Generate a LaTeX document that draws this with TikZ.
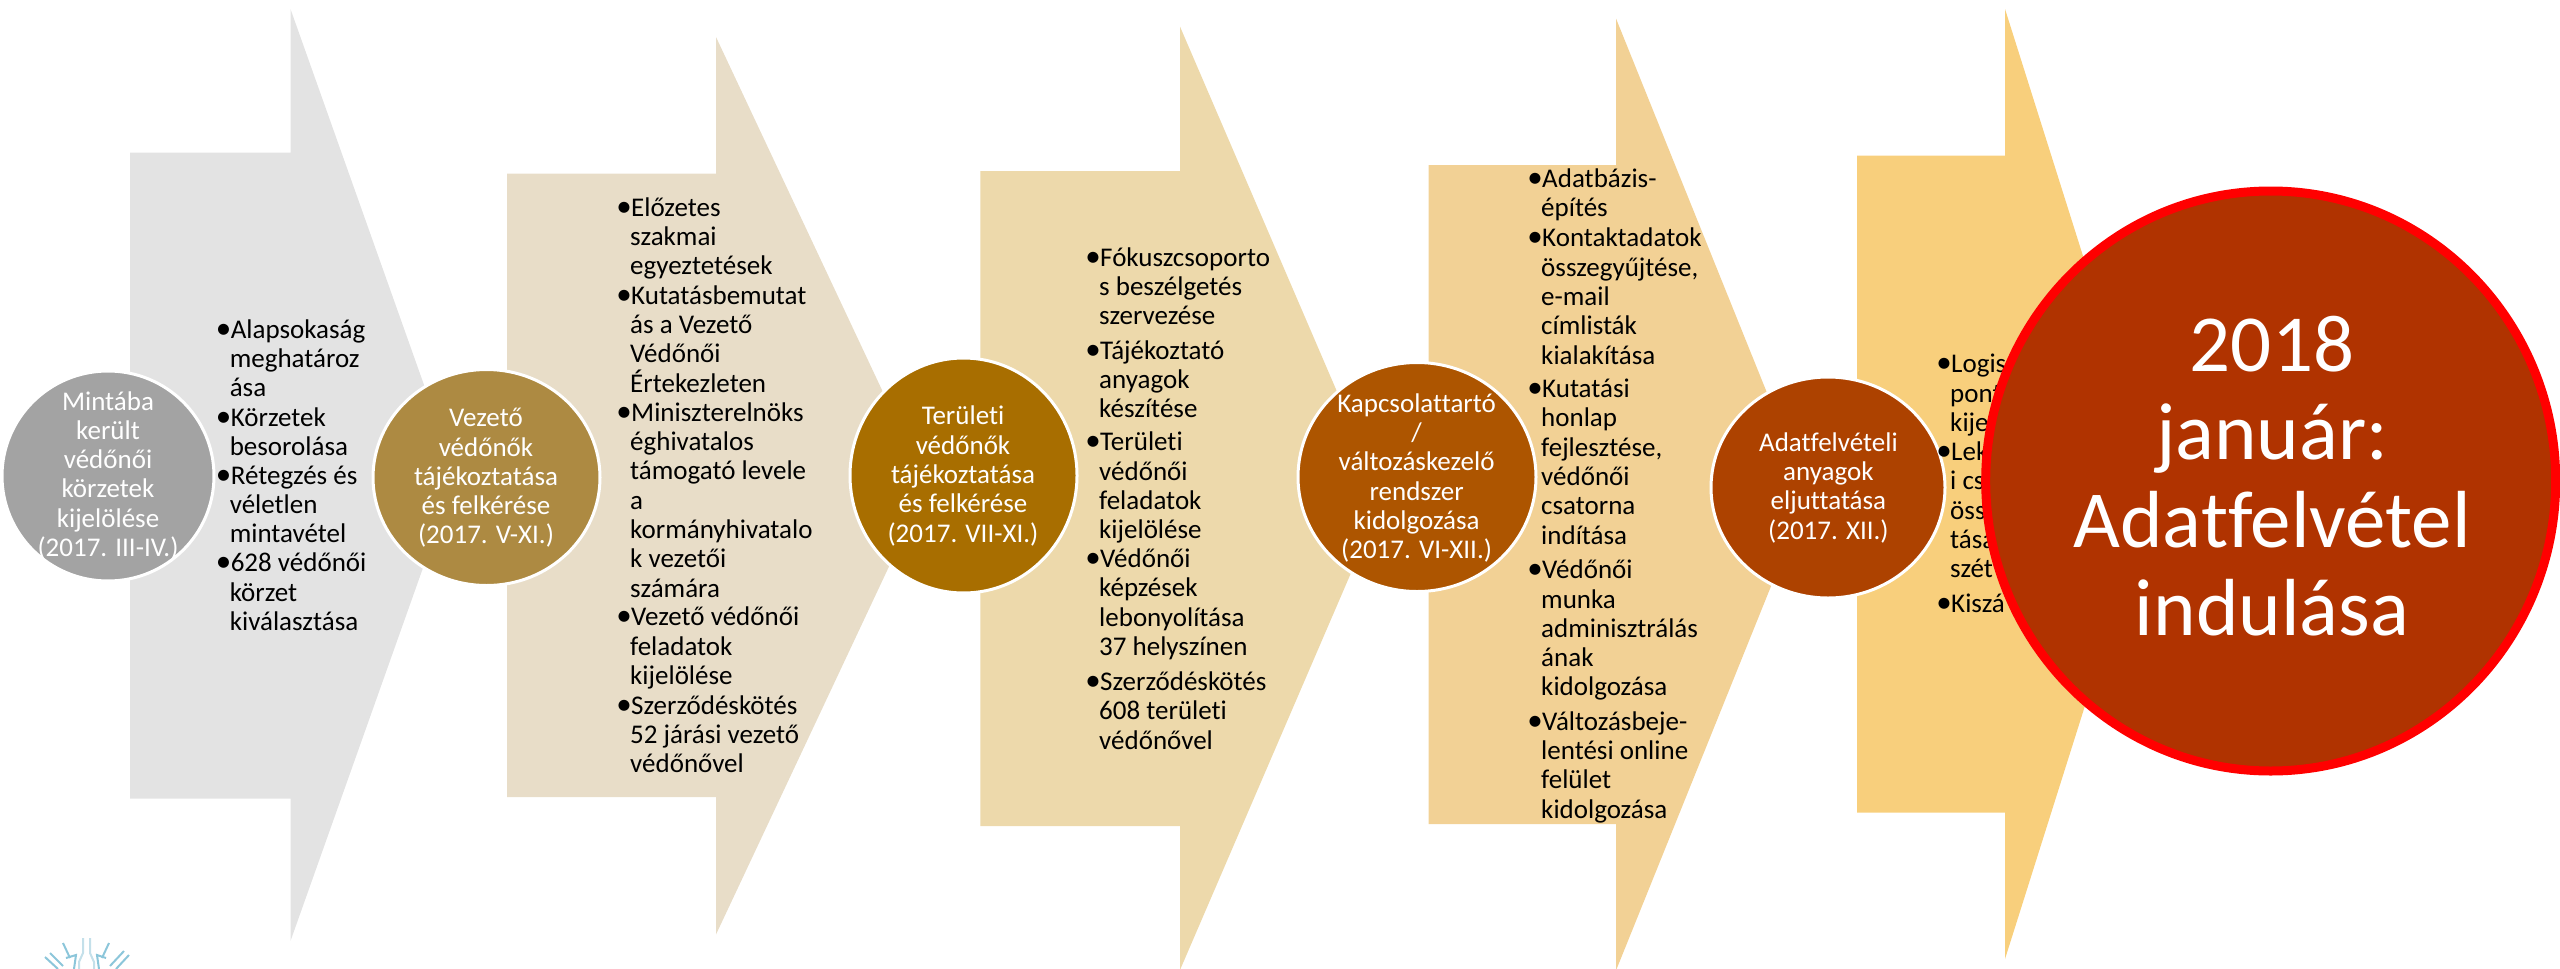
\documentclass[tikz,border=0pt]{standalone}
\usepackage{fontspec}
\setmainfont[Ligatures={NoCommon,TeX}]{Carlito}
\usetikzlibrary{shapes.geometric}
\definecolor{arA}{HTML}{E3E3E3}
\definecolor{arB}{HTML}{E8DDC8}
\definecolor{arC}{HTML}{EDD9AB}
\definecolor{arD}{HTML}{F2D195}
\definecolor{arE}{HTML}{F8CF7C}
\definecolor{dcA}{HTML}{A3A3A3}
\definecolor{dcB}{HTML}{AD8A42}
\definecolor{dcC}{HTML}{A86E00}
\definecolor{dcD}{HTML}{AD5500}
\definecolor{dcE}{HTML}{AD4200}
\definecolor{dcF}{HTML}{B03300}
\definecolor{logoblue}{HTML}{8CC6DA}
\definecolor{logopale}{HTML}{C4E0EA}
\newcommand{\fl}{\rule{0pt}{30pt}}
\newcommand{\bu}{\llap{\fontsize{31}{31}\selectfont •\kern-1.5pt}\kern1pt}
\tikzset{
  listitem/.style={anchor=north west,inner sep=0pt,align=left,text=black,
    font=\fontsize{27}{29.3}\selectfont},
  disctext/.style={anchor=north,inner sep=0pt,align=center,text=white,
    font=\fontsize{27}{29.3}\selectfont},
  bigtext/.style={anchor=north,inner sep=0pt,align=center,text=white,
    font=\fontsize{81}{88}\selectfont},
  disc/.style={ellipse,draw=white,line width=3pt,inner sep=0pt},
  logoline/.style={draw=logoblue,line width=2pt},
  logopaleline/.style={draw=logopale,line width=2pt}
}
\begin{document}
\begin{tikzpicture}[x=1pt,y=-1pt]
\useasboundingbox (0,0) rectangle (2560,969);
% arrows
\fill[arA] (130,152.6)--(290.5,152.6)--(290.5,9)--(456,475)--(290.5,941)--(290.5,798.5)--(130,798.5)--cycle;
\fill[arB] (507,173.7)--(716,173.7)--(716,37)--(927,485.7)--(716,934.5)--(716,797)--(507,797)--cycle;
\fill[arC] (980.3,171)--(1180,171)--(1180,26.6)--(1383,498.6)--(1180,970)--(1180,826)--(980.3,826)--cycle;
\fill[arD] (1428.6,165)--(1616,165)--(1616,18.5)--(1808,494.5)--(1616,970.5)--(1616,824)--(1428.6,824)--cycle;
\fill[arE] (1857,155.7)--(2005,155.7)--(2005,9)--(2155,484)--(2005,959)--(2005,812.7)--(1857,812.7)--cycle;
% logo
\draw[logopaleline] (83,938)--(83,953)--(79,962)--(79,969) (90,938)--(90,953)--(94,962)--(94,969);
\draw[logoline] (63,943)--(70,958) (109,943)--(102,958);
\draw[logoline] (66,958)--(76,955)--(74,969) (106,958)--(97,955)--(99,969);
\draw[logoline] (45,957)--(58,969) (50,953)--(63,966) (129,955)--(116,969) (124,951)--(110,966);
% discs
\node[disc,fill=dcA,minimum width=212pt,minimum height=210pt] (c1) at (108,476) {};
\node[disc,fill=dcB,minimum width=227pt,minimum height=216pt] (c2) at (486.5,477.5) {};
\node[disc,fill=dcC,minimum width=227pt,minimum height=235pt] (c3) at (963.5,475.5) {};
\node[disc,fill=dcD,minimum width=238pt,minimum height=229pt] (c4) at (1417,477) {};
\node[disc,fill=dcE,minimum width=234pt,minimum height=221pt] (c5) at (1828,487.5) {};
% disc texts
\node[disctext] (t1) at (108,409.8-30) {\fl Mintába\\került\\védőnői\\körzetek\\kijelölése\\(2017. III-IV.)};
\node[disctext] (t2) at (486,426.5-30) {\fl Vezető\\védőnők\\tájékoztatása\\és felkérése\\(2017. V-XI.)};
\node[disctext] (t3) at (963,424.6-30) {\fl Területi\\védőnők\\tájékoztatása\\és felkérése\\(2017. VII-XI.)};
\node[disctext] (t4) at (1416.6,412-30) {\fl Kapcsolattartó\\/\\változáskezelő\\rendszer\\kidolgozása\\(2017. VI-XII.)};
\node[disctext] (t5) at (1828.4,451-30) {\fl Adatfelvételi\\anyagok\\eljuttatása\\(2017. XII.)};
% list 1
\node[listitem] (a1) at (229.6,338-30) {\fl\bu Alapsokaság\\meghatároz\\ása};
\node[listitem] (a2) at (229.6,425.8-30) {\fl\bu Körzetek\\besorolása};
\node[listitem] (a3) at (229.6,484-30) {\fl\bu Rétegzés és\\véletlen\\mintavétel};
\node[listitem] (a4) at (229.6,571.7-30) {\fl\bu 628 védőnői\\körzet\\kiválasztása};
% list 2
\node[listitem] (b1) at (630,216-30) {\fl\bu Előzetes\\szakmai\\egyeztetések};
\node[listitem] (b2) at (630,304-30) {\fl\bu Kutatásbemutat\\ás a Vezető\\Védőnői\\Értekezleten};
\node[listitem] (b3) at (630,421-30) {\fl\bu Miniszterelnöks\\éghivatalos\\támogató levele\\a\\kormányhivatalo\\k vezetői\\számára};
\node[listitem] (b4) at (630,625.6-30) {\fl\bu Vezető védőnői\\feladatok\\kijelölése};
\node[listitem] (b5) at (630,713.8-30) {\fl\bu Szerződéskötés\\52 járási vezető\\védőnővel};
% list 3
\node[listitem] (d1) at (1099,265.8-30) {\fl\bu Fókuszcsoporto\\s beszélgetés\\szervezése};
\node[listitem] (d2) at (1099,359-30) {\fl\bu Tájékoztató\\anyagok\\készítése};
\node[listitem] (d3) at (1099,450.5-30) {\fl\bu Területi\\védőnői\\feladatok\\kijelölése};
\node[listitem] (d4) at (1099,567.4-30) {\fl\bu Védőnői\\képzések\\lebonyolítása\\37 helyszínen};
\node[listitem] (d5) at (1099,690.4-30) {\fl\bu Szerződéskötés\\608 területi\\védőnővel};
% list 4
\node[listitem] (e1) at (1541,187.3-30) {\fl\bu Adatbázis-\\építés};
\node[listitem] (e2) at (1541,246.6-30) {\fl\bu Kontaktadatok\\összegyűjtése,\\e-mail\\címlisták\\kialakítása};
\node[listitem] (e3) at (1541,397.4-30) {\fl\bu Kutatási\\honlap\\fejlesztése,\\védőnői\\csatorna\\indítása};
\node[listitem] (e4) at (1541,578.5-30) {\fl\bu Védőnői\\munka\\adminisztrálás\\ának\\kidolgozása};
\node[listitem] (e5) at (1541,730-30) {\fl\bu Változásbeje-\\lentési online\\felület\\kidolgozása};
% list 5 (only what the big disc leaves visible)
\node[listitem] (g1) at (1950,372.7-30) {\fl\bu Logisz\\pont\\kije};
\node[listitem] (g2) at (1950,460.4-30) {\fl\bu Lek\\i cs\\öss\\tása\\szét};
\node[listitem] (g3) at (1950,611.9-30) {\fl\bu Kiszá};
% final disc
\node[ellipse,draw=red,fill=dcF,line width=9pt,inner sep=0pt,minimum width=570pt,minimum height=580pt] (c6) at (2270.7,481) {};
\node[bigtext] (t6) at (2272,371-90) {\rule{0pt}{90pt}2018\\január:\\Adatfelvétel\\indulása};
\end{tikzpicture}
\end{document}
